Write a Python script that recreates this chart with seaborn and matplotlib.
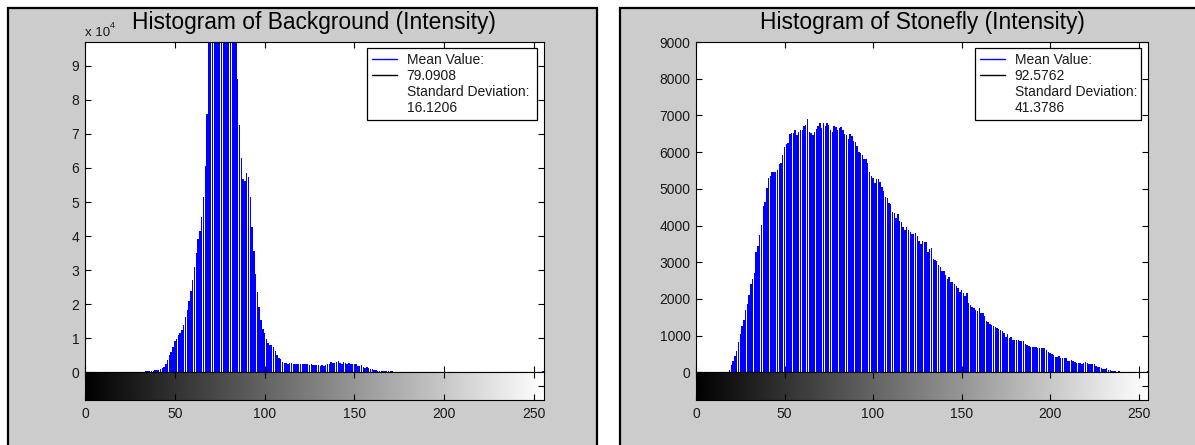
import numpy as np
import matplotlib
matplotlib.use("Agg")
import matplotlib.pyplot as plt
from matplotlib.patches import Rectangle
from matplotlib.lines import Line2D
import seaborn as sns

# gray levels 0..255 (imhist of uint8 images)
levels = list(range(256))

# counts (peak is clipped by the axis)
bg_counts = [
    4000, 0, 0, 0, 0, 0, 0, 0, 0, 0,
    0, 0, 0, 0, 0, 0, 0, 0, 0, 0,
    0, 0, 0, 0, 0, 0, 0, 0, 0, 0,
    0, 0, 0, 200, 250, 300, 350, 400, 500, 550,
    650, 800, 1000, 1300, 1600, 2500, 3700, 5000, 6000, 7500,
    9100, 9900, 10900, 11600, 12500, 13800, 16300, 18200, 21000, 24000,
    27000, 31000, 35000, 39000, 41500, 45500, 51500, 60500, 76000, 103000,
    118000, 130000, 140000, 146000, 150000, 152000, 151000, 148000, 143000, 137000,
    130000, 122000, 112000, 104000, 99000, 86000, 72600, 62800, 56700, 56300,
    58400, 57500, 51400, 42700, 35600, 29000, 23600, 19200, 15300, 12800,
    11400, 9900, 8600, 8100, 7900, 7500, 6300, 5200, 4300, 3800,
    3000, 2800, 2700, 2500, 2800, 2600, 2500, 2500, 2400, 2500,
    2400, 2400, 2300, 2400, 2300, 2200, 2300, 2200, 2100, 2200,
    2100, 1900, 2000, 1800, 2200, 2400, 2500, 2900, 2700, 2800,
    2900, 3200, 2800, 2500, 2900, 2700, 2400, 2700, 2400, 2500,
    2400, 2500, 1800, 1900, 2000, 1600, 1300, 1500, 1200, 1000,
    900, 800, 600, 400, 350, 300, 300, 300, 250, 300,
    250, 250, 200, 200, 0, 0, 0, 0, 0, 0,
    0, 0, 0, 0, 0, 0, 0, 0, 0, 0,
    0, 0, 0, 0, 0, 0, 0, 0, 0, 0,
    0, 0, 0, 0, 0, 0, 0, 0, 0, 0,
    0, 0, 0, 0, 0, 0, 0, 0, 0, 0,
    0, 0, 0, 0, 0, 0, 0, 0, 0, 0,
    0, 0, 0, 0, 0, 0, 0, 0, 0, 0,
    0, 0, 0, 0, 0, 0, 0, 0, 0, 0,
    0, 0, 0, 0, 0, 300,
]

# counts
sf_counts = [
    0, 0, 0, 0, 0, 0, 0, 0, 0, 0,
    0, 0, 0, 0, 0, 0, 0, 0, 20, 60,
    200, 320, 450, 590, 820, 1050, 1260, 1430, 1700, 1860,
    2110, 2410, 2540, 2700, 3270, 3430, 3750, 4020, 4540, 4650,
    5020, 5290, 5340, 5470, 5470, 5470, 5520, 5680, 5700, 5930,
    6150, 6230, 6250, 6490, 6520, 6530, 6610, 6470, 6540, 6590,
    6610, 6720, 6750, 6900, 6560, 6530, 6470, 6560, 6630, 6700,
    6780, 6660, 6780, 6720, 6780, 6750, 6590, 6540, 6700, 6680,
    6610, 6660, 6680, 6610, 6500, 6470, 6350, 6500, 6440, 6290,
    6270, 6170, 6000, 5970, 5930, 5810, 5810, 5700, 5470, 5340,
    5290, 5150, 5260, 5260, 5180, 5050, 4930, 4790, 4760, 4610,
    4590, 4360, 4340, 4200, 4310, 4110, 4090, 3950, 3880, 3950,
    3880, 3810, 3760, 3760, 3790, 3720, 3590, 3500, 3590, 3540,
    3540, 3290, 3360, 3380, 3080, 3060, 3040, 2930, 2880, 2770,
    2760, 2640, 2540, 2610, 2470, 2450, 2410, 2350, 2290, 2200,
    2250, 2170, 2090, 2150, 1880, 1840, 1770, 1750, 1700, 1680,
    1750, 1610, 1610, 1540, 1410, 1380, 1320, 1290, 1250, 1230,
    1200, 1170, 1140, 1130, 1060, 970, 1050, 930, 950, 880,
    880, 880, 880, 860, 850, 840, 770, 750, 720, 680,
    700, 700, 700, 650, 650, 650, 650, 650, 610, 540,
    520, 500, 470, 430, 430, 450, 380, 380, 380, 380,
    310, 310, 340, 310, 290, 260, 260, 250, 230, 250,
    270, 260, 230, 230, 230, 230, 170, 150, 140, 110,
    80, 90, 110, 60, 60, 45, 35, 35, 20, 25,
    0, 0, 0, 0, 0, 0, 0, 0, 0, 0,
    0, 0, 0, 0, 0, 30,
]

titles = ["Histogram of Background (Intensity)", "Histogram of Stonefly (Intensity)"]
legend_labels = [
    ["Mean Value:", "79.0908", "Standard Deviation:", "16.1206"],
    ["Mean Value:", "92.5762", "Standard Deviation:", "41.3786"],
]
x_ticks = [0, 50, 100, 150, 200, 250]
bg_yticks = [0, 10000, 20000, 30000, 40000, 50000, 60000, 70000, 80000, 90000]
bg_ylabels = ["0", "1", "2", "3", "4", "5", "6", "7", "8", "9"]
sf_yticks = [0, 1000, 2000, 3000, 4000, 5000, 6000, 7000, 8000, 9000]
sf_ylabels = ["0", "1000", "2000", "3000", "4000", "5000", "6000", "7000", "8000", "9000"]

sns.set_style("white")
plt.rcParams['font.family'] = ['Liberation Sans', 'DejaVu Sans']

W, H = 1195, 445
fig = plt.figure(figsize=(W / 100, H / 100), dpi=100)
fig.patch.set_facecolor("white")


def box(x0, y0, x1, y1):
    # pixel box (top-left origin) -> figure fraction rect
    return [x0 / W, 1 - y1 / H, (x1 - x0) / W, (y1 - y0) / H]


# gray figure panels with black border
for px0, px1 in [(7.5, 596.5), (620, 1260)]:
    fig.add_artist(Rectangle((px0 / W, -0.2), (px1 - px0) / W, 1.2 - 7.5 / H,
                             transform=fig.transFigure, facecolor="#cccccc",
                             edgecolor="black", linewidth=1.6, zorder=-10))

panels = [
    dict(counts=bg_counts, hist=(85, 42, 543.5, 372.3), top=97000,
         yt=bg_yticks, yl=bg_ylabels, leg=(367, 48, 537, 121)),
    dict(counts=sf_counts, hist=(696, 42, 1148, 372.3), top=9000,
         yt=sf_yticks, yl=sf_ylabels, leg=(975, 48, 1141, 121)),
]

tick_kw = dict(direction="in", length=4, width=0.8, color="black",
               labelcolor="#1a1a1a", labelsize=10)

for i, p in enumerate(panels):
    x0, y0, x1, y1 = p["hist"]
    ax = fig.add_axes(box(x0, y0, x1, y1))
    cax = fig.add_axes(box(x0, y1, x1, 400))

    sns.histplot(x=levels, weights=p["counts"], discrete=True, shrink=0.8,
                 color="blue", alpha=1, edgecolor="none", linewidth=0, ax=ax)
    ax.set_xlim(0, 255.3)
    ax.set_ylim(0, p["top"])
    ax.set_xlabel("")
    ax.set_ylabel("")
    ax.set_facecolor("white")
    ax.set_xticks(x_ticks)
    ax.set_yticks(p["yt"])
    ax.set_yticklabels(p["yl"])
    ax.tick_params(axis="both", top=True, right=True, bottom=True, left=True,
                   labelbottom=False, pad=4, **tick_kw)
    for s in ax.spines.values():
        s.set_color("black")
        s.set_linewidth(0.8)

    # gray-level colorbar under the histogram
    cax.imshow(np.array(levels)[np.newaxis, :], cmap="gray", aspect="auto",
               extent=(-0.5, 255.5, 0, 1), vmin=0, vmax=255)
    cax.set_xlim(0, 255.3)
    cax.set_ylim(0, 1)
    cax.set_xticks(x_ticks)
    cax.set_yticks([0.5])
    cax.set_yticklabels([])
    cax.tick_params(axis="both", top=True, right=True, bottom=True, left=True,
                    pad=5, **tick_kw)
    for s in cax.spines.values():
        s.set_color("black")
        s.set_linewidth(0.8)

    handles = [Line2D([], [], color="blue", lw=1), Line2D([], [], color="black", lw=1),
               Line2D([], [], color="none"), Line2D([], [], color="none")]
    lx0, ly0, lx1, ly1 = p["leg"]
    leg = ax.legend(handles, legend_labels[i], loc="upper left", mode="expand",
                    bbox_to_anchor=(lx0 / W, 1 - ly1 / H, (lx1 - lx0) / W, (ly1 - ly0) / H),
                    bbox_transform=fig.transFigure,
                    fontsize=10, frameon=True, fancybox=False, framealpha=1,
                    edgecolor="black", facecolor="white", labelspacing=0.15,
                    handlelength=1.8, handletextpad=0.7, borderpad=0.35,
                    borderaxespad=0)
    leg.get_frame().set_linewidth(0.9)
    for t in leg.get_texts():
        t.set_color("#1a1a1a")

    fig.text((x0 + x1) / 2 / W, 1 - 29.5 / H, titles[i], ha="center", va="baseline",
             fontsize=16.4, color="black")

# exponent label of the background y axis
fig.text(85 / W, 1 - 35.7 / H, "x 10", ha="left", va="baseline", fontsize=9.5, color="#1a1a1a")
fig.text(110 / W, 1 - 28 / H, "4", ha="left", va="baseline", fontsize=6.5, color="#1a1a1a")

fig.savefig("out.png", dpi=100)
